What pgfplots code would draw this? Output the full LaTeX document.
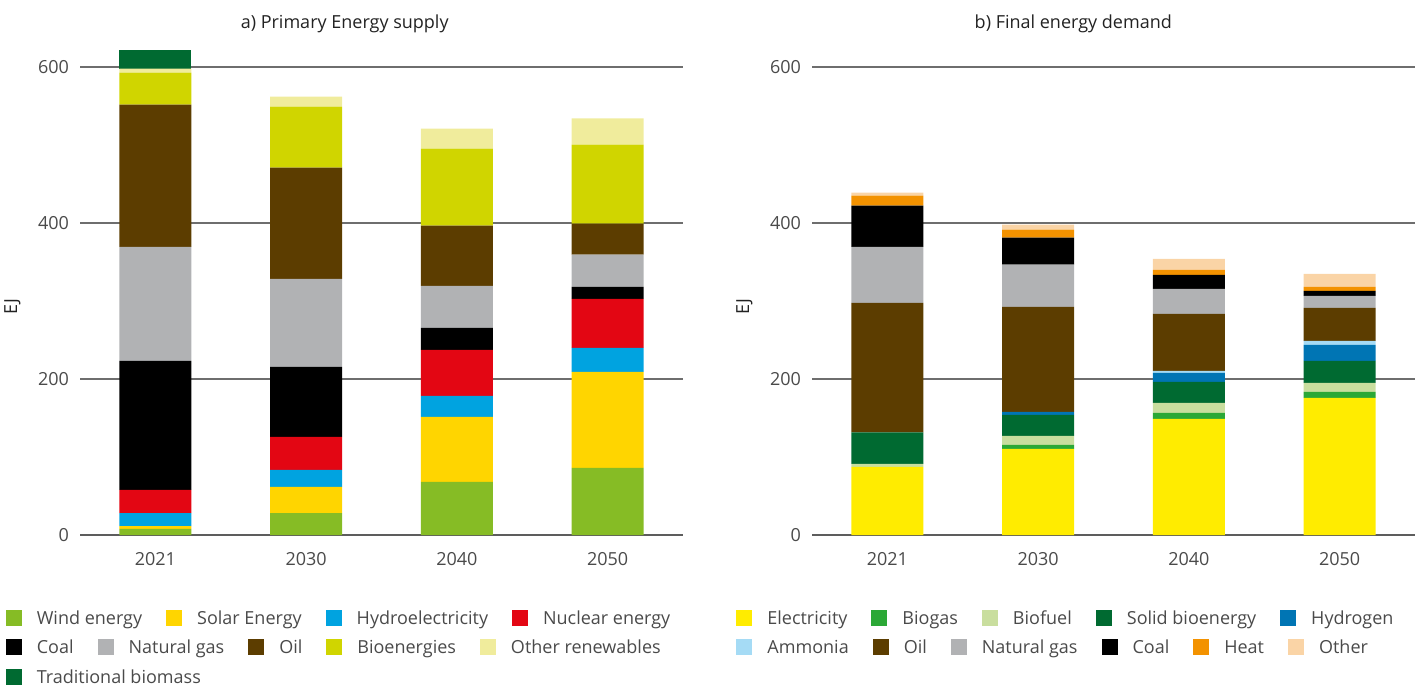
\documentclass[border=0pt]{standalone}
\usepackage{pgfplots}
\pgfplotsset{compat=1.18}
\usepackage{pgfplotstable}
\usepackage{fontspec}
\setmainfont{Open Sans}

\definecolor{wind}{HTML}{86BC25}
\definecolor{solar}{HTML}{FFD500}
\definecolor{hydro}{HTML}{00A3E0}
\definecolor{nuclear}{HTML}{E30613}
\definecolor{coal}{HTML}{000000}
\definecolor{gas}{HTML}{B1B2B4}
\definecolor{oil}{HTML}{5C3D00}
\definecolor{bioen}{HTML}{D0D500}
\definecolor{otherren}{HTML}{F0EC9C}
\definecolor{tradbio}{HTML}{006A31}
\definecolor{elec}{HTML}{FFEC00}
\definecolor{biogas}{HTML}{2BA836}
\definecolor{biofuel}{HTML}{C9DE9E}
\definecolor{solidbio}{HTML}{006A31}
\definecolor{hydrogen}{HTML}{0075B4}
\definecolor{ammonia}{HTML}{A5DBF5}
\definecolor{heat}{HTML}{F39200}
\definecolor{otherfe}{HTML}{FAD4A6}
\definecolor{tickgray}{HTML}{4A4A4A}
\definecolor{gridgray}{HTML}{6E6E6E}
\definecolor{titlegray}{HTML}{222222}

\pgfplotstableread{
x wind solar hydro nuclear coal gas oil bio other trad
0 7.7 3.8 16.7 29.5 165.6 146.2 182.3 41.0 5.2 24.3
1 28.2 33.4 21.8 42.3 89.9 112.9 142.4 78.3 12.8 0
2 68.0 83.4 27.0 59.0 28.2 53.9 77.0 98.8 25.7 0
3 86.0 123.2 30.8 62.8 15.4 41.1 39.8 101.3 33.8 0
}\primary

\pgfplotstableread{
x elec biogas biofuel solid hydrogen ammonia oil gas coal heat other
0 87.3 0 3.8 40.6 0 0 166.0 71.8 52.7 12.8 3.8
1 110.4 5.1 11.5 27.0 3.8 0 134.8 53.9 34.6 10.3 6.4
2 148.8 7.7 12.9 26.9 11.6 2.5 73.2 32.1 17.9 6.4 14.1
3 175.8 7.7 11.5 28.3 20.5 5.1 42.4 15.4 6.4 5.1 16.7
}\final

\pgfplotsset{energy/.style={
  scale only axis, width=301.5pt, height=249.6pt,
  ymin=0, ymax=640, xmin=-0.5, xmax=3.5,
  enlargelimits=false, clip=false,
  ybar stacked, bar width=0.478,
  axis x line*=bottom, axis y line*=left,
  y axis line style={draw=none},
  x axis line style={draw=gridgray!85!black, line width=1.1pt},
  ytick={0,200,400,600}, ymajorgrids,
  grid style={draw=gridgray, line width=1pt},
  major tick length=0pt,
  tick label style={font=\fontsize{9}{10}\selectfont, text=tickgray},
  /pgf/number format/assume math mode=true,
  xtick={0,1,2,3}, xticklabels={2021,2030,2040,2050},
  xticklabel style={yshift=-5.35pt},
  yticklabel style={xshift=-2pt},
  ylabel={EJ},
  ylabel style={at={(axis description cs:-0.112,0.457)}, anchor=center,
    font=\fontsize{9}{10}\selectfont, text=titlegray},
}}

\newcommand\sw[1]{\textcolor{#1}{\rule[-0.75pt]{8pt}{8pt}}\hspace{7.5pt}}
\newcommand\gap{\hspace{12pt}}

\begin{document}
\begin{tikzpicture}
\path[use as bounding box] (0,0) rectangle (709.5pt,343pt);

\begin{axis}[energy, at={(40pt,75.5pt)}, anchor=south west]
\addplot[fill=wind, draw=none] table[x=x,y=wind]{\primary};
\addplot[fill=solar, draw=none] table[x=x,y=solar]{\primary};
\addplot[fill=hydro, draw=none] table[x=x,y=hydro]{\primary};
\addplot[fill=nuclear, draw=none] table[x=x,y=nuclear]{\primary};
\addplot[fill=coal, draw=none] table[x=x,y=coal]{\primary};
\addplot[fill=gas, draw=none] table[x=x,y=gas]{\primary};
\addplot[fill=oil, draw=none] table[x=x,y=oil]{\primary};
\addplot[fill=bioen, draw=none] table[x=x,y=bio]{\primary};
\addplot[fill=otherren, draw=none] table[x=x,y=other]{\primary};
\addplot[fill=tradbio, draw=none] table[x=x,y=trad]{\primary};
\end{axis}

\begin{axis}[energy, at={(406pt,75.5pt)}, anchor=south west]
\addplot[fill=elec, draw=none] table[x=x,y=elec]{\final};
\addplot[fill=biogas, draw=none] table[x=x,y=biogas]{\final};
\addplot[fill=biofuel, draw=none] table[x=x,y=biofuel]{\final};
\addplot[fill=solidbio, draw=none] table[x=x,y=solid]{\final};
\addplot[fill=hydrogen, draw=none] table[x=x,y=hydrogen]{\final};
\addplot[fill=ammonia, draw=none] table[x=x,y=ammonia]{\final};
\addplot[fill=oil, draw=none] table[x=x,y=oil]{\final};
\addplot[fill=gas, draw=none] table[x=x,y=gas]{\final};
\addplot[fill=coal, draw=none] table[x=x,y=coal]{\final};
\addplot[fill=heat, draw=none] table[x=x,y=heat]{\final};
\addplot[fill=otherfe, draw=none] table[x=x,y=other]{\final};
\end{axis}

% titles
\node[anchor=base, inner sep=0, font=\fontsize{9}{10}\selectfont, text=titlegray] at (172.35pt,328.85pt) {a) Primary Energy supply};
\node[anchor=base, inner sep=0, font=\fontsize{9}{10}\selectfont, text=titlegray] at (536.65pt,328.85pt) {b) Final energy demand};

% legends
\begin{scope}[every node/.style={anchor=base west, inner sep=0, font=\fontsize{9}{10}\selectfont, text=tickgray}]
\node at (2.7pt,30.75pt) {\sw{wind}Wind energy\gap\sw{solar}Solar Energy\gap\sw{hydro}Hydroelectricity\gap\sw{nuclear}Nuclear energy};
\node at (2.7pt,16.25pt) {\sw{coal}Coal\gap\sw{gas}Natural gas\gap\sw{oil}Oil\gap\sw{bioen}Bioenergies\gap\sw{otherren}Other renewables};
\node at (2.7pt,1.25pt) {\sw{tradbio}Traditional biomass};
\node at (368pt,30.75pt) {\sw{elec}Electricity\gap\sw{biogas}Biogas\gap\sw{biofuel}Biofuel\gap\sw{solidbio}Solid bioenergy\gap\sw{hydrogen}Hydrogen};
\node at (368pt,16.25pt) {\sw{ammonia}Ammonia\gap\sw{oil}Oil\gap\sw{gas}Natural gas\gap\sw{coal}Coal\gap\sw{heat}Heat\gap\sw{otherfe}Other};
\end{scope}
\end{tikzpicture}
\end{document}
